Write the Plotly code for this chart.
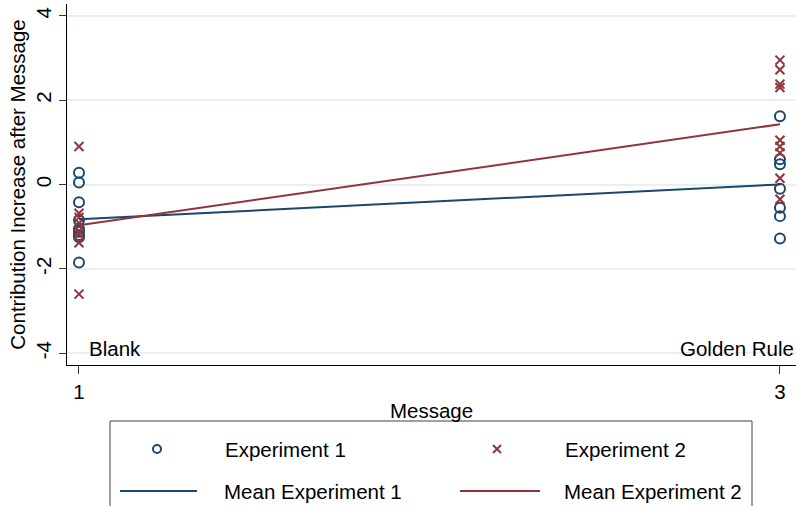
import numpy as np
import plotly.graph_objects as go

# Message conditions (x positions) and their labels
message_codes = [1, 3]
message_names = ["Blank", "Golden Rule"]

# Contribution increase after message, per experiment and condition
exp1_blank = [0.28, 0.05, -0.42, -0.85, -1.05, -1.12, -1.20, -1.25, -1.85]
exp1_golden = [1.62, 0.60, 0.48, -0.10, -0.55, -0.75, -1.28]
exp2_blank = [0.90, -0.68, -0.78, -0.92, -1.10, -1.18, -1.38, -2.60]
exp2_golden = [2.95, 2.72, 2.38, 2.30, 1.05, 0.90, 0.75, 0.15, -0.35]

y_ticks = [-4, -2, 0, 2, 4]
y_tick_labels = ["-4", "-2", "0", "2", "4"]

NAVY = "#1a476f"
MAROON = "#90353b"
GRID = "#e8f0f2"
FONT = "Liberation Sans, Arial, sans-serif"
FS = 20.5

exp1_x = [message_codes[0]] * len(exp1_blank) + [message_codes[1]] * len(exp1_golden)
exp1_y = exp1_blank + exp1_golden
exp2_x = [message_codes[0]] * len(exp2_blank) + [message_codes[1]] * len(exp2_golden)
exp2_y = exp2_blank + exp2_golden

mean_exp1 = [float(np.mean(exp1_blank)), float(np.mean(exp1_golden))]
mean_exp2 = [float(np.mean(exp2_blank)), float(np.mean(exp2_golden))]

fig = go.Figure()
fig.add_trace(go.Scatter(
    x=exp1_x, y=exp1_y, mode="markers", name="Experiment 1",
    marker=dict(symbol="circle-open", size=10, color=NAVY, line=dict(width=2, color=NAVY)),
))
fig.add_trace(go.Scatter(
    x=exp2_x, y=exp2_y, mode="markers", name="Experiment 2",
    marker=dict(symbol="x-thin", size=9, color=MAROON, line=dict(width=2, color=MAROON)),
))
fig.add_trace(go.Scatter(
    x=message_codes, y=mean_exp1, mode="lines", name="Mean Experiment 1",
    line=dict(color=NAVY, width=2),
))
fig.add_trace(go.Scatter(
    x=message_codes, y=mean_exp2, mode="lines", name="Mean Experiment 2",
    line=dict(color=MAROON, width=2),
))

# Condition labels near the bottom of the plot
fig.add_annotation(x=message_codes[0], y=-3.9, text=message_names[0], showarrow=False,
                   xanchor="left", yanchor="middle", xshift=8,
                   font=dict(family=FONT, size=FS, color="black"))
fig.add_annotation(x=message_codes[1], y=-3.9, text=message_names[1], showarrow=False,
                   xanchor="right", yanchor="middle", xshift=16,
                   font=dict(family=FONT, size=FS, color="black"))

# Legend box below the plot, two columns
L, T = 67, 4
PW, PH = 729, 361


def px(xp):
    return (xp - L) / PW


def py(yp):
    return (T + PH - yp) / PH


fig.add_shape(type="rect", xref="paper", yref="paper",
              x0=px(110), x1=px(752), y0=py(421), y1=py(530),
              line=dict(color="#404040", width=1), fillcolor="white", layer="above")

row1, row2 = 449, 491
fig.add_shape(type="circle", xref="paper", yref="paper", xsizemode="pixel", ysizemode="pixel",
              xanchor=px(157), yanchor=py(row1), x0=-4, x1=4, y0=-4, y1=4,
              line=dict(color=NAVY, width=2))
fig.add_shape(type="path", xref="paper", yref="paper", xsizemode="pixel", ysizemode="pixel",
              xanchor=px(497), yanchor=py(row1), path="M-4,-4L4,4M-4,4L4,-4",
              line=dict(color=MAROON, width=2))
fig.add_shape(type="line", xref="paper", yref="paper",
              x0=px(120), x1=px(197), y0=py(row2), y1=py(row2),
              line=dict(color=NAVY, width=2))
fig.add_shape(type="line", xref="paper", yref="paper",
              x0=px(460), x1=px(540), y0=py(row2), y1=py(row2),
              line=dict(color=MAROON, width=2))

legend_texts = [("Experiment 1", 223, row1), ("Experiment 2", 563, row1),
                ("Mean Experiment 1", 222, row2), ("Mean Experiment 2", 562, row2)]
for txt, xp, yp in legend_texts:
    fig.add_annotation(xref="paper", yref="paper", x=px(xp), y=py(yp), text=txt,
                       showarrow=False, xanchor="left", yanchor="middle",
                       font=dict(family=FONT, size=FS, color="black"))

fig.update_layout(
    width=796, height=506,
    margin=dict(l=L, r=0, t=T, b=506 - T - PH),
    plot_bgcolor="white", paper_bgcolor="white",
    showlegend=False,
    font=dict(family=FONT, size=FS, color="black"),
    xaxis=dict(
        range=[0.9658, 3.0458], tickvals=message_codes, ticktext=[str(c) for c in message_codes],
        showgrid=False, zeroline=False, showline=True, linecolor="black", linewidth=1,
        ticks="outside", ticklen=8, tickcolor="#333", tickfont=dict(size=FS),
        title=dict(text="Message", font=dict(size=FS), standoff=2),
    ),
    yaxis=dict(
        range=[-4.28, 4.28], tickvals=y_ticks, ticktext=y_tick_labels, tickangle=-90,
        showgrid=True, gridcolor=GRID, gridwidth=2, zeroline=False,
        showline=True, linecolor="black", linewidth=1,
        ticks="outside", ticklen=7, tickcolor="#333", tickfont=dict(size=FS),
        title=dict(text="Contribution Increase after Message", font=dict(size=FS), standoff=0),
    ),
)

fig.write_html("out.html")
